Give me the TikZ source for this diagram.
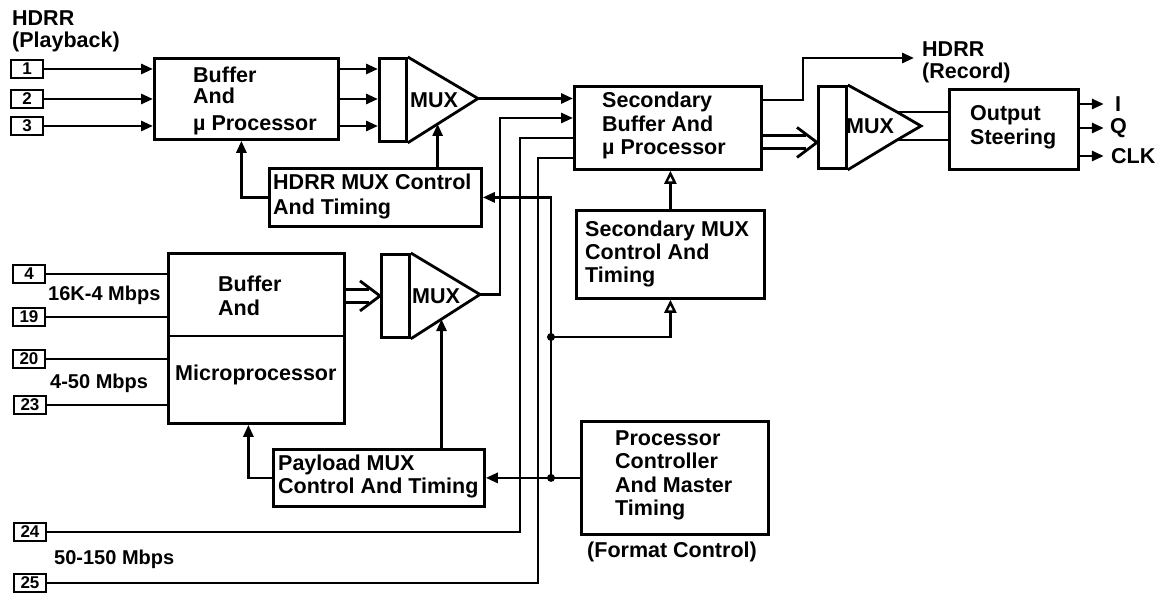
\documentclass[tikz,border=0pt]{standalone}
\usepackage{fontspec}
\setmainfont{Liberation Sans}
\usetikzlibrary{arrows.meta,calc}
\newcommand\myhollow[2]{%
  \draw[wire] ($(#2)+(-11,-6.5)$) -- ($(#1 |- #2)+(0,-6.5)$);
  \draw[wire] ($(#2)+(-11,6.5)$) -- ($(#1 |- #2)+(0,6.5)$);
  \draw[wire, line join=miter] ($(#2)+(-20,-15)$) -- (#2) -- ($(#2)+(-20,15)$);}
\begin{document}
\begin{tikzpicture}[x=1pt,y=-1pt,
  box/.style={draw, line width=2.8pt, inner sep=0pt, anchor=north west},
  numbox/.style={draw, line width=2.6pt, inner sep=0pt, minimum width=32pt, minimum height=18pt, font=\bfseries\fontsize{17}{17}\selectfont},
  txt/.style={inner sep=0pt, font=\bfseries\fontsize{21.5}{24}\selectfont},
  lbl/.style={txt, anchor=base west},
  wire/.style={line width=2.8pt},
  arr/.style={wire, -{Triangle[length=12pt,width=10pt]}},
  arrO/.style={wire, -{Triangle[open,length=13pt,width=12pt,line width=2.4pt]}},
  dot/.style={circle, fill, inner sep=0pt, minimum size=8pt}]
\useasboundingbox (0,0) rectangle (1164,601);
\fill[white] (0,0) rectangle (1164,601);

% ---------- titles ----------
\node[lbl] (t1) at (12,26) {HDRR};
\node[lbl] (t2) at (12,48) {(Playback)};

% ---------- input boxes ----------
\node[numbox] (in1) at (27,69) {1};
\node[numbox] (in2) at (27,99) {2};
\node[numbox] (in3) at (27,126) {3};
\node[numbox] (in4) at (29,274) {4};
\node[numbox] (in19) at (29,317) {19};
\node[numbox] (in20) at (29,359) {20};
\node[numbox] (in23) at (30,405) {23};
\node[numbox] (in24) at (30,532) {24};
\node[numbox] (in25) at (30,583) {25};

% ---------- blocks ----------
\node[box, minimum width=184pt, minimum height=81pt] (buf) at (153,57) {};
\node[lbl] (buft1) at (193,83) {Buffer};
\node[lbl] (buft2) at (193,104) {And};
\node[lbl] (buft3) at (193,131) {µ Processor};

\node[box, minimum width=187pt, minimum height=83pt] (sb) at (573,85) {};
\node[lbl] (sbt1) at (602,108) {Secondary};
\node[lbl] (sbt2) at (602,132) {Buffer And};
\node[lbl] (sbt3) at (602,155) {µ Processor};

\node[box, minimum width=212pt, minimum height=58pt] (hm) at (268,167) {};
\node[lbl] (hmt1) at (273,190) {HDRR MUX Control};
\node[lbl] (hmt2) at (273,215) {And Timing};

\node[box, minimum width=176pt, minimum height=170pt] (bb) at (167,252) {};
\coordinate (bbdiv) at (0,336);
\draw[wire] (bb.west |- bbdiv) -- (bb.east |- bbdiv);
\node[lbl] (bbt1) at (218,292) {Buffer};
\node[lbl] (bbt2) at (218,316) {And};
\node[lbl] (bbt3) at (175,380) {Microprocessor};

\node[box, minimum width=188pt, minimum height=88pt] (smx) at (575,209) {};
\node[lbl] (smt1) at (585,237) {Secondary MUX};
\node[lbl] (smt2) at (585,260) {Control And};
\node[lbl] (smt3) at (585,283) {Timing};

\node[box, minimum width=211pt, minimum height=57pt] (pl) at (272,448) {};
\node[lbl] (plt1) at (278,470) {Payload MUX};
\node[lbl] (plt2) at (278,493) {Control And Timing};

\node[box, minimum width=187pt, minimum height=113pt] (pc) at (580,420) {};
\node[lbl] (pct1) at (615,445) {Processor};
\node[lbl] (pct2) at (615,468) {Controller};
\node[lbl] (pct3) at (615,492) {And Master};
\node[lbl] (pct4) at (615,515) {Timing};
\node[lbl] (fmt) at (587,557) {(Format Control)};

\node[box, minimum width=129pt, minimum height=80pt] (os) at (948,88) {};
\node[lbl] (ost1) at (970,121) {Output};
\node[lbl] (ost2) at (970,145) {Steering};

% ---------- rate labels ----------
\node[lbl, font=\bfseries\fontsize{20}{22}\selectfont] (r1) at (48,301) {16K-4 Mbps};
\node[lbl, font=\bfseries\fontsize{20}{22}\selectfont] (r2) at (50,388) {4-50 Mbps};
\node[lbl, font=\bfseries\fontsize{20}{22}\selectfont] (r3) at (54,564) {50-150 Mbps};

% ---------- MUX 1 ----------
\node[box, minimum width=27pt, minimum height=83pt] (m1r) at (378,57) {};
\coordinate (m1tip) at (478,98.5);
\draw[wire, line join=miter] (m1r.north east) -- (m1tip) -- (m1r.south east);
\node[txt] (m1t) at (434,100) {MUX};

% ---------- MUX 2 ----------
\node[box, minimum width=28pt, minimum height=83pt] (m2r) at (380,253) {};
\coordinate (m2tip) at (480,294.5);
\draw[wire, line join=miter] (m2r.north east) -- (m2tip) -- (m2r.south east);
\node[txt] (m2t) at (436,296) {MUX};

% ---------- MUX 3 ----------
\node[box, minimum width=28pt, minimum height=82pt] (m3r) at (817,85) {};
\coordinate (m3a) at (897,112);
\coordinate (m3tip) at (921,126);
\coordinate (m3b) at (897,140);
\draw[wire, line join=miter] (m3r.north east) -- (m3a) -- (m3tip) -- (m3b) -- (m3r.south east);
\draw[wire] (m3a) -- (m3a -| os.west);
\draw[wire] (m3b) -- (m3b -| os.west);
\node[txt] (m3t) at (870,126) {MUX};

% ---------- record output ----------
\node[lbl] (rec1) at (922,57) {HDRR};
\node[lbl] (rec2) at (922,79) {(Record)};
\coordinate (rc) at (803,58);
\coordinate (sbo) at (0,100);
\draw[arr] (sb.east |- sbo) -| (rc) -- ($(rc -| rec1.west)+(-8,0)$);

% ---------- outputs ----------
\node[txt, anchor=west] (oI) at (1115,104) {I};
\node[txt, anchor=west] (oQ) at (1110,128) {Q};
\node[txt, anchor=west] (oC) at (1111,156) {CLK};
\draw[arr] (os.east |- oI) -- ++(24,0);
\draw[arr] (os.east |- oQ) -- ++(24,0);
\draw[arr] (os.east |- oC) -- ++(24,0);

% ---------- playback inputs ----------
\draw[arr] (in1.east) -- (in1.east -| buf.west);
\draw[arr] (in2.east) -- (in2.east -| buf.west);
\draw[arr] (in3.east) -- (in3.east -| buf.west);
\draw[arr] (buf.east |- in1.east) -- (m1r.west |- in1.east);
\draw[arr] (buf.east |- in2.east) -- (m1r.west |- in2.east);
\draw[arr] (buf.east |- in3.east) -- (m1r.west |- in3.east);
\draw[arr] (m1tip) -- (m1tip -| sb.west);
\draw[arr] (hm.west) -| ($(buf.south)+(-5,0)$);
\coordinate (m1in) at ($(m1r.south east)!0.425!(m1tip)$);
\draw[arr] (hm.north -| m1in) -- (m1in);

% ---------- payload inputs ----------
\draw[wire] (in4.east) -- (in4.east -| bb.west);
\draw[wire] (in19.east) -- (in19.east -| bb.west);
\draw[wire] (in20.east) -- (in20.east -| bb.west);
\draw[wire] (in23.east) -- (in23.east -| bb.west);
\myhollow{bb.east}{m2r.west}

% ---------- MUX2 output and wideband ----------
\coordinate (j1) at (500,118);
\draw[arr] (m2tip) -| (j1) -- (j1 -| sb.west);
\coordinate (c24) at (520,138);
\coordinate (c25) at (538,158);
\draw[wire] (in24.east) -| (c24) -- (c24 -| sb.west);
\draw[wire] (in25.east) -| (c25) -- (c25 -| sb.west);

% ---------- secondary to MUX3 ----------
\coordinate (m3in) at ($(m3r.west)+(0,15)$);
\myhollow{sb.east}{m3in}

% ---------- control ----------
\coordinate (cx) at (551,0);
\coordinate (j2) at (pc.west -| cx);
\coordinate (y3) at (0,337);
\coordinate (j3) at (cx |- y3);
\draw[arr] (pc.west) -- (pl.east);
\draw[arr] (j2) -- (j2 |- hm.east) -- (hm.east);
\draw[arrO] (j3) -| (smx.south);
\draw[arrO] (smx.north) -- (smx.north |- sb.south);
\node[dot] (d2) at (j2) {};
\node[dot] (d3) at (j3) {};
\coordinate (m2in) at ($(m2r.south east)!0.444!(m2tip)$);
\draw[arr] (pl.north -| m2in) -- (m2in);
\draw[arr] (pl.west) -| ($(bb.south)+(-8,0)$);
\end{tikzpicture}
\end{document}
